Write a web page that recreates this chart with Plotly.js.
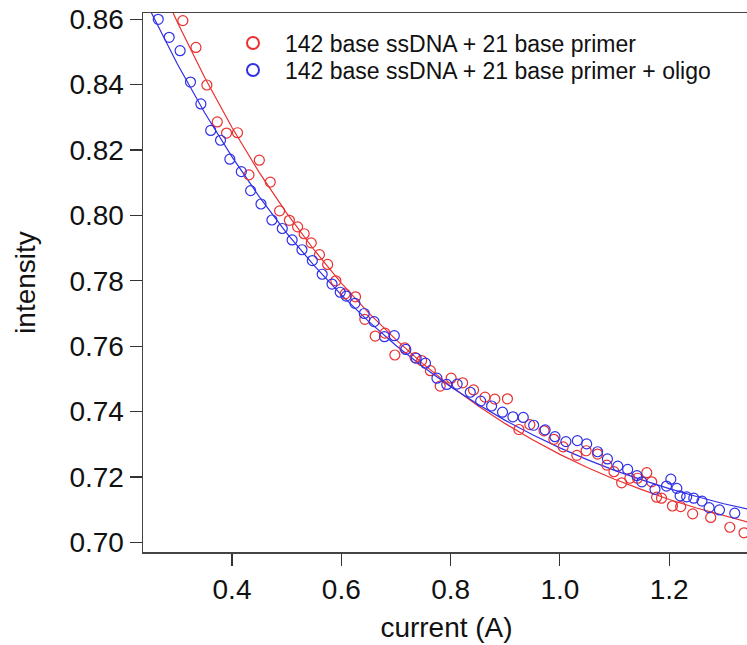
<!DOCTYPE html>
<html>
<head>
<meta charset="utf-8">
<script src="https://cdn.plot.ly/plotly-3.0.1.min.js"></script>
<style>
html,body{margin:0;padding:0;overflow:hidden;background:#fff;}
#chart{width:752px;height:645px;}
</style>
</head>
<body>
<div id="chart"></div>
<script>
// Data
const redName = "142 base ssDNA + 21 base primer";
const blueName = "142 base ssDNA + 21 base primer + oligo";

const redX = [0.310,0.334,0.354,0.373,0.390,0.410,0.431,0.450,0.470,0.487,0.505,0.520,0.532,0.545,0.560,0.575,0.590,0.607,0.626,0.643,0.662,0.680,0.698,0.716,0.735,0.747,0.763,0.781,0.801,0.822,0.842,0.863,0.881,0.904,0.925,0.945,0.971,0.989,1.006,1.031,1.048,1.069,1.086,1.099,1.113,1.128,1.142,1.159,1.168,1.177,1.186,1.206,1.221,1.243,1.276,1.311,1.337];
const redY = [0.8596,0.8514,0.8399,0.8286,0.8252,0.8253,0.8124,0.8169,0.8102,0.8014,0.7985,0.7965,0.7944,0.7916,0.7880,0.7850,0.7800,0.7760,0.7751,0.7682,0.7631,0.7640,0.7573,0.7595,0.7565,0.7556,0.7525,0.7478,0.7502,0.7488,0.7466,0.7444,0.7438,0.7439,0.7345,0.7360,0.7341,0.7315,0.7292,0.7266,0.7280,0.7270,0.7236,0.7216,0.7182,0.7196,0.7196,0.7213,0.7185,0.7138,0.7135,0.7111,0.7109,0.7087,0.7076,0.7046,0.7029];

const blueX = [0.265,0.285,0.305,0.324,0.343,0.361,0.379,0.396,0.417,0.434,0.453,0.473,0.492,0.510,0.528,0.547,0.565,0.583,0.598,0.609,0.625,0.642,0.660,0.679,0.697,0.718,0.737,0.754,0.775,0.793,0.812,0.836,0.855,0.875,0.895,0.914,0.933,0.952,0.973,0.991,1.011,1.032,1.049,1.069,1.087,1.106,1.124,1.141,1.150,1.174,1.195,1.203,1.214,1.220,1.232,1.245,1.260,1.273,1.292,1.320];
const blueY = [0.8600,0.8545,0.8504,0.8408,0.8341,0.8260,0.8230,0.8172,0.8134,0.8076,0.8035,0.7986,0.7960,0.7925,0.7895,0.7862,0.7820,0.7790,0.7765,0.7753,0.7731,0.7700,0.7675,0.7629,0.7632,0.7590,0.7563,0.7548,0.7502,0.7483,0.7484,0.7459,0.7432,0.7417,0.7398,0.7384,0.7382,0.7358,0.7344,0.7323,0.7308,0.7311,0.7301,0.7277,0.7255,0.7233,0.7223,0.7204,0.7185,0.7162,0.7172,0.7193,0.7165,0.7142,0.7139,0.7135,0.7126,0.7106,0.7099,0.7089];

// Fitted curves
const redFitX = [0.29,0.30,0.35,0.40,0.45,0.50,0.55,0.60,0.65,0.70,0.75,0.80,0.85,0.90,0.95,1.00,1.05,1.10,1.15,1.20,1.25,1.30,1.35];
const redFitY = [0.8628,0.8591,0.8422,0.8269,0.8131,0.8007,0.7895,0.7793,0.7702,0.7620,0.7545,0.7478,0.7418,0.7363,0.7314,0.7269,0.7229,0.7193,0.7161,0.7131,0.7105,0.7081,0.7059];
const blueFitX = [0.25,0.30,0.35,0.40,0.45,0.50,0.55,0.60,0.65,0.70,0.75,0.80,0.85,0.90,0.95,1.00,1.05,1.10,1.15,1.20,1.25,1.30,1.35];
const blueFitY = [0.8628,0.8463,0.8314,0.8179,0.8057,0.7946,0.7847,0.7757,0.7676,0.7602,0.7536,0.7476,0.7422,0.7373,0.7329,0.7289,0.7253,0.7220,0.7191,0.7164,0.7140,0.7118,0.7099];

const xTicks = [0.4,0.6,0.8,1.0,1.2];
const xTickText = ["0.4","0.6","0.8","1.0","1.2"];
const yTicks = [0.70,0.72,0.74,0.76,0.78,0.80,0.82,0.84,0.86];
const yTickText = ["0.70","0.72","0.74","0.76","0.78","0.80","0.82","0.84","0.86"];

const RED = "rgb(234,48,48)";
const BLUE = "rgb(48,48,232)";
const FONT = "Liberation Sans, Arial, sans-serif";

const traces = [
  {x: redFitX, y: redFitY, mode: "lines", line: {color: RED, width: 1.2}, showlegend: false, hoverinfo: "skip"},
  {x: blueFitX, y: blueFitY, mode: "lines", line: {color: BLUE, width: 1.2}, showlegend: false, hoverinfo: "skip"},
  {x: redX, y: redY, mode: "markers", name: redName, legend: "legend",
   marker: {symbol: "circle-open", size: 10, color: RED, line: {width: 1.2, color: RED}}},
  {x: blueX, y: blueY, mode: "markers", name: blueName, legend: "legend2",
   marker: {symbol: "circle-open", size: 10, color: BLUE, line: {width: 1.2, color: BLUE}}}
];

const legendCommon = {
  xanchor: "left", yanchor: "middle", bgcolor: "rgba(0,0,0,0)",
  font: {size: 23, family: FONT, color: "#111"}, itemwidth: 54, itemsizing: "constant"
};

const layout = {
  width: 752, height: 645,
  margin: {l: 143, r: 2, t: 13, b: 93},
  paper_bgcolor: "#fff", plot_bgcolor: "#fff",
  font: {family: FONT, color: "#111", size: 28},
  showlegend: true,
  legend: Object.assign({x: 0.1285, y: 0.9443}, legendCommon),
  legend2: Object.assign({x: 0.1285, y: 0.8942}, legendCommon),
  xaxis: {
    range: [0.2371, 1.3479], tickvals: xTicks, ticktext: xTickText,
    ticks: "outside", ticklen: 12, tickwidth: 1.2, tickcolor: "#333",
    showline: true, linecolor: "#444", linewidth: 1.5, mirror: true,
    showgrid: false, zeroline: false,
    tickfont: {size: 28, family: FONT, color: "#111"},
    title: {text: "current (A)", font: {size: 28, family: FONT, color: "#111"}, standoff: 13}
  },
  yaxis: {
    range: [0.69703, 0.86193], tickvals: yTicks, ticktext: yTickText,
    ticks: "outside", ticklen: 12, tickwidth: 1.2, tickcolor: "#333",
    showline: true, linecolor: "#444", linewidth: 1.5, mirror: true,
    showgrid: false, zeroline: false,
    tickfont: {size: 28, family: FONT, color: "#111"},
    title: {text: "intensity", font: {size: 28, family: FONT, color: "#111"}, standoff: 25}
  }
};

Plotly.newPlot("chart", traces, layout, {staticPlot: true, displayModeBar: false});
</script>
</body>
</html>
